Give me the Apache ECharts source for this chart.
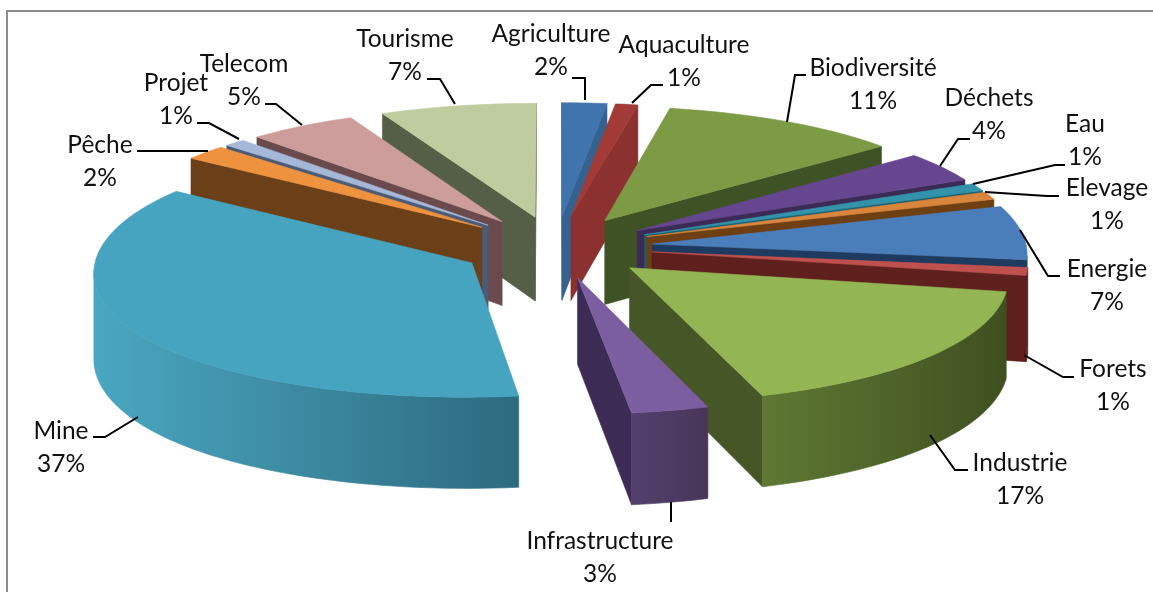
<!DOCTYPE html>
<html><head><meta charset="utf-8">
<style>html,body{margin:0;padding:0;background:#fff}#c{width:1153px;height:592px}</style>
<script src="https://cdn.jsdelivr.net/npm/echarts@6/dist/echarts.min.js"></script>
</head><body><div id="c"></div>
<script>
const categories=['Agriculture','Aquaculture','Biodiversité','Déchets','Eau','Elevage','Energie','Forets','Industrie','Infrastructure','Mine','Pêche','Projet','Telecom','Tourisme'];
const values=[2,1,11,4,1,1,7,1,17,3,37,2,1,5,7];
const topColors=['#3f74ac','#a23b38','#7d9a45','#65468f','#3293ab','#d9853b','#4a7ebb','#c0504d','#94b554','#7a5ea0','#46a4c0','#ee9240','#a6b8d8','#cc9d9b','#bfcca0'];
const sideColors=['#35628f','#8b3230','#3f5226','#3b2a55','#1c5f6e','#6f3f14','#1f3a5f','#5e1f1d','#465626','#3c2c55','#2d6a7f','#6b3f18','#4b5a75','#6a4a4c','#555f47'];
const wallGrad=[['#35628f','#35628f'],['#8b3230','#8b3230'],['#42552a','#42552a'],['#3b2a55','#3b2a55'],['#1c5f6e','#1c5f6e'],['#6f3f14','#6f3f14'],['#1f3a5f','#1f3a5f'],['#5e1f1d','#5e1f1d'],['#5f7833','#3f5020'],['#53406e','#483558'],['#4aa7c1','#2d6a7f'],['#6b3f18','#6b3f18'],['#4b5a75','#4b5a75'],['#6a4a4c','#6a4a4c'],['#555f47','#555f47']];
const labelAt=[[551,34],[684,45],[873,68],[989,98],[1085,124],[1107,188],[1107,269],[1113,369],[1020,463],[600,541],[61,431],[100,145],[176,83],[244,64],[405,39]];
const leaders=[[[585,100],[585,78],[572,78]],[[632,103],[651,85],[663,85]],[[787,122],[795,75],[806,75]],[[940,166],[958,139],[970,139]],[[973,184],[1055,165],[1065,165]],[[985,192],[1047,196],[1059,196]],[[1020,230],[1048,276],[1060,276]],[[1024,355],[1063,377],[1074,377]],[[930,435],[955,470],[968,470]],[[671,502],[671,522]],[[138,417],[105,437],[93,437]],[[137,151],[208,151]],[[197,123],[209,123],[239,139]],[[265,104],[276,104],[302,125]],[[427,79],[440,79],[455,104]]];

const CX=556,CY=247,RX=374,RY=388,WARP=0.04,EXPL=97,K=0.06,S=0.32,H=85;
const total=values.reduce((a,b)=>a+b,0);
const starts=[];values.reduce((a,v,i)=>{starts[i]=a;return a+v;},0);
const mids=values.map((v,i)=>(starts[i]+v/2)/total*2*Math.PI);
const order=mids.map((m,i)=>[Math.cos(m),i]).sort((a,b)=>b[0]-a[0]).map(x=>x[1]);
const rank=[];order.forEach((idx,r)=>rank[idx]=r);
function proj(X,Y,drop){const w=1/(1+K*Y/385);return [CX+X*w,CY-S*Y*w+drop*w];}
function area(q){let s=0;for(let i=0;i<q.length;i++){const a=q[i],b=q[(i+1)%q.length];s+=a[0]*b[1]-b[0]*a[1];}return s;}

function renderItem(params,api){
  const i=params.dataIndex,v=api.value(0);
  const a0=starts[i]/total*2*Math.PI,a1=(starts[i]+v)/total*2*Math.PI,m=(a0+a1)/2;
  const ex=EXPL*Math.sin(m),ey=EXPL*Math.cos(m);
  const n=Math.max(4,Math.round((a1-a0)/0.03));
  const world=[[ex,ey]];
  for(let k=0;k<=n;k++){const t=a0+(a1-a0)*k/n,c=Math.cos(t);world.push([ex+RX*Math.sin(t)*(1+WARP*c*c),ey+RY*c]);}
  const top=world.map(p=>proj(p[0],p[1],0)),bot=world.map(p=>proj(p[0],p[1],H));
  const base=rank[i]*10+1,children=[];
  const line=(q,fill,z)=>({type:'polygon',z2:z,silent:true,shape:{points:q},style:{fill,stroke:fill,lineWidth:0.6}});
  [[0,1],[world.length-1,0]].forEach(e=>{
    const q=[top[e[0]],top[e[1]],bot[e[1]],bot[e[0]]];
    if(area(q)<0)children.push(line(q,sideColors[i],base));
  });
  const run=[];
  for(let k=1;k<world.length-1;k++){
    if(area([top[k],top[k+1],bot[k+1],bot[k]])<0){if(!run.length)run.push(k);run.push(k+1);}
  }
  if(run.length){
    const q=run.map(k=>top[k]).concat(run.slice().reverse().map(k=>bot[k]));
    const g=wallGrad[i];
    children.push(line(q,new echarts.graphic.LinearGradient(0,0,1,0,[{offset:0,color:g[0]},{offset:1,color:g[1]}]),base+1));
  }
  children.push(line(top,topColors[i],base+2));
  children.push({type:'polyline',z2:1000,silent:true,shape:{points:leaders[i]},style:{fill:null,stroke:'#000',lineWidth:2}});
  children.push({type:'text',z2:1001,silent:true,style:{text:categories[i],x:labelAt[i][0],y:labelAt[i][1],align:'center',verticalAlign:'middle',fill:'#111',font:'24.5px Lato'}});
  children.push({type:'text',z2:1001,silent:true,style:{text:v+'%',x:labelAt[i][0],y:labelAt[i][1]+33,align:'center',verticalAlign:'middle',fill:'#111',font:'24.5px Lato'}});
  return {type:'group',children};
}
const chart=echarts.init(document.getElementById('c'),null,{renderer:'canvas'});
chart.setOption({
  animation:false,backgroundColor:'#fff',
  graphic:[{type:'rect',z:-1,silent:true,shape:{x:7,y:11,width:1300,height:700},style:{fill:'#fff',stroke:'#8c8c8c',lineWidth:2}}],
  series:[{type:'custom',coordinateSystem:'none',renderItem,data:values.map(v=>[v]),animation:false,silent:true}]
});
</script></body></html>
